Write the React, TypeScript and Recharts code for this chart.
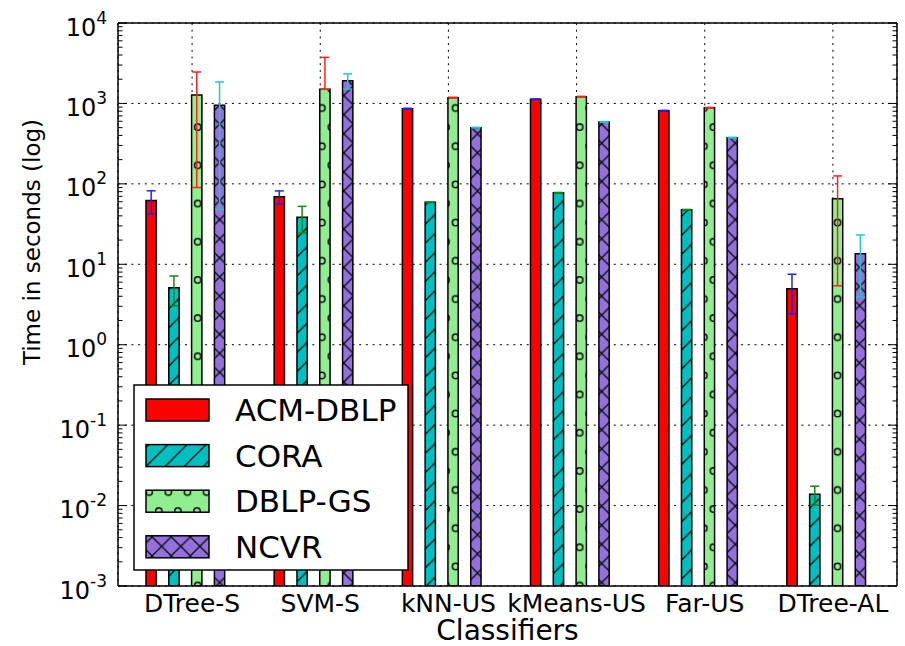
import { BarChart, Bar, XAxis, YAxis, CartesianGrid, ErrorBar } from "recharts";

const FONT = "'DejaVu Sans', sans-serif";

const CLASSIFIERS = ["DTree-S", "SVM-S", "kNN-US", "kMeans-US", "Far-US", "DTree-AL"];

// mean run time in seconds, and standard deviation (error bars)
const ACM_DBLP = [62, 69, 861, 1125, 813, 4.97];
const ACM_DBLP_ERR = [20, 12.7, 10, 8, 8, 2.55];
const CORA = [5.1, 38.5, 59, 77.6, 47.7, 0.0138];
const CORA_ERR = [2.05, 14, 0.5, 0.6, 0.4, 0.0036];
const DBLP_GS = [1275, 1497, 1180, 1213, 885, 65.4];
const DBLP_GS_ERR = [1185, 2240, 12, 12, 9, 60];
const NCVR = [948, 1918, 500, 588, 375, 13.5];
const NCVR_ERR = [900, 410, 5, 6, 4, 9.6];

const Y_MAJOR = [1e-3, 1e-2, 1e-1, 1, 10, 100, 1000, 10000];
const Y_EXP = ["-3", "-2", "-1", "0", "1", "2", "3", "4"];
const Y_MINOR = Y_MAJOR.slice(0, -1).flatMap((d) => [2, 3, 4, 5, 6, 7, 8, 9].map((m) => m * d));
const Y_TICKS = [...Y_MAJOR, ...Y_MINOR];

const SERIES = [
  { key: "acm", name: "ACM-DBLP", values: ACM_DBLP, errs: ACM_DBLP_ERR, color: "#ff0000", hatch: null, ecolor: "#2020ff" },
  { key: "cora", name: "CORA", values: CORA, errs: CORA_ERR, color: "#00bfbf", hatch: "slash", ecolor: "#108a10" },
  { key: "dblp", name: "DBLP-GS", values: DBLP_GS, errs: DBLP_GS_ERR, color: "#90ee90", hatch: "circles", ecolor: "#ff2020" },
  { key: "ncvr", name: "NCVR", values: NCVR, errs: NCVR_ERR, color: "#9370db", hatch: "cross", ecolor: "#20c8c8" },
];

const data = CLASSIFIERS.map((name, i) => {
  const row: Record<string, any> = { name };
  SERIES.forEach((s) => {
    const v = s.values[i];
    const e = s.errs[i];
    row[s.key] = v;
    // lower whisker disappears on a log axis when it would go below zero
    row[s.key + "Err"] = [e < v ? e : 0, e];
  });
  return row;
});

const P = 19.1;

function hatchDefs(prefix: string) {
  return (
    <defs>
      <pattern id={prefix + "slash"} patternUnits="userSpaceOnUse" width={P} height={P}>
        <rect width={P} height={P} fill="#00bfbf" />
        <path d={`M0,${P} L${P},0 M${-P / 2},${P / 2} L${P / 2},${-P / 2} M${P / 2},${P * 1.5} L${P * 1.5},${P / 2}`} stroke="#000" strokeWidth={1.2} />
      </pattern>
      <pattern id={prefix + "cross"} patternUnits="userSpaceOnUse" width={P} height={P}>
        <rect width={P} height={P} fill="#9370db" />
        <path d={`M0,${P} L${P},0 M0,0 L${P},${P}`} stroke="#000" strokeWidth={1.2} />
      </pattern>
      <pattern id={prefix + "circles"} patternUnits="userSpaceOnUse" x={6.7} y={12.5} width={P} height={P * 2}>
        <rect width={P} height={P * 2} fill="#90ee90" />
        {[[0, 0], [P, 0], [0, 2 * P], [P, 2 * P], [P / 2, P]].map(([cx, cy], i) => (
          <circle key={i} cx={cx} cy={cy} r={3.2} fill="none" stroke="#000" strokeWidth={1.4} />
        ))}
      </pattern>
    </defs>
  );
}

const fillOf = (s: (typeof SERIES)[number], prefix: string) => (s.hatch ? `url(#${prefix}${s.hatch})` : s.color);

function LeftTick(props: any) {
  const { x, y, payload } = props;
  const i = Y_MAJOR.indexOf(payload.value);
  const major = i >= 0;
  return (
    <g>
      <line x1={x} x2={x + (major ? 9 : 4.5)} y1={y} y2={y} stroke="#000" strokeWidth={1} />
      {major && (
        <text x={x - 11} y={y + 12.5} textAnchor="end" fill="#000">
          <tspan fontSize={24}>10</tspan>
          <tspan fontSize={17} dy={-12}>{Y_EXP[i]}</tspan>
        </text>
      )}
    </g>
  );
}

function RightTick(props: any) {
  const { x, y, payload } = props;
  const major = Y_MAJOR.indexOf(payload.value) >= 0;
  return <line x1={x} x2={x - (major ? 9 : 4.5)} y1={y} y2={y} stroke="#000" strokeWidth={1} />;
}

function XTick(props: any) {
  const { x, y, payload } = props;
  return (
    <text x={x} y={y + 26} textAnchor="middle" fontSize={25} fill="#000">
      {payload.value}
    </text>
  );
}

function LegendBox() {
  return (
    <svg width={276} height={187} style={{ position: "absolute", left: 133, top: 384 }}>
      {hatchDefs("lg-")}
      <rect x={1} y={1} width={274} height={185} fill="#fff" stroke="#000" strokeWidth={1.5} />
      {SERIES.map((s, i) => {
        const cy = 26 + i * 45.6;
        return (
          <g key={s.key}>
            <rect x={13} y={cy - 11} width={63} height={22} fill={fillOf(s, "lg-")} stroke="#000" strokeWidth={1.5} />
            <text x={102} y={cy + 11} fontSize={31} fill="#000">
              {s.name}
            </text>
          </g>
        );
      })}
    </svg>
  );
}

export default function App() {
  return (
    <div style={{ position: "fixed", left: 0, top: 0, width: 905, height: 646, background: "#fff", fontFamily: FONT }}>
      <BarChart width={905} height={646} data={data} margin={{ top: 0, right: 0, bottom: 0, left: 0 }} barGap={12.5} barSize={10.3}>
        {hatchDefs("c-")}
        <CartesianGrid
          xAxisId="cats"
          yAxisId="left"
          horizontalValues={Y_MAJOR}
          stroke="#000"
          strokeWidth={1}
          strokeDasharray="2 4.7"
        />
        <XAxis
          xAxisId="cats"
          dataKey="name"
          height={60}
          padding={{ left: 10, right: 0 }}
          interval={0}
          tickLine={false}
          tickSize={0}
          tickMargin={0}
          tick={<XTick />}
          axisLine={{ stroke: "#000", strokeWidth: 1.5 }}
          label={{ value: "Classifiers", position: "insideBottom", offset: 6, fontSize: 28, fill: "#000" }}
        />
        <XAxis xAxisId="bars" dataKey="name" hide height={0} padding={{ left: 3, right: 7 }} />
        <XAxis xAxisId="top" dataKey="name" orientation="top" height={23} tick={false} tickLine={false} axisLine={{ stroke: "#000", strokeWidth: 1.5 }} />
        <YAxis
          yAxisId="left"
          type="number"
          scale="log"
          domain={[0.001, 10000]}
          allowDataOverflow
          ticks={Y_TICKS}
          interval={0}
          width={118}
          tickLine={false}
          tickSize={0}
          tickMargin={0}
          tick={<LeftTick />}
          axisLine={{ stroke: "#000", strokeWidth: 1.5 }}
          label={{
            value: "Time in seconds (log)",
            angle: -90,
            position: "insideLeft",
            offset: 32,
            dy: -62.5,
            fontSize: 23,
            fill: "#000",
            style: { textAnchor: "middle" },
          }}
        />
        <YAxis
          yAxisId="right"
          orientation="right"
          type="number"
          scale="log"
          domain={[0.001, 10000]}
          allowDataOverflow
          ticks={Y_TICKS}
          interval={0}
          width={8}
          tickLine={false}
          tickSize={0}
          tickMargin={0}
          tick={<RightTick />}
          axisLine={{ stroke: "#000", strokeWidth: 1.5 }}
        />
        {SERIES.map((s) => (
          <Bar
            key={s.key}
            dataKey={s.key}
            name={s.name}
            xAxisId="bars"
            yAxisId="left"
            fill={fillOf(s, "c-")}
            stroke="#000"
            strokeWidth={1.5}
            isAnimationActive={false}
          >
            <ErrorBar dataKey={s.key + "Err"} direction="y" width={4.5} stroke={s.ecolor} strokeWidth={1.5} isAnimationActive={false} />
          </Bar>
        ))}
      </BarChart>
      <LegendBox />
    </div>
  );
}
